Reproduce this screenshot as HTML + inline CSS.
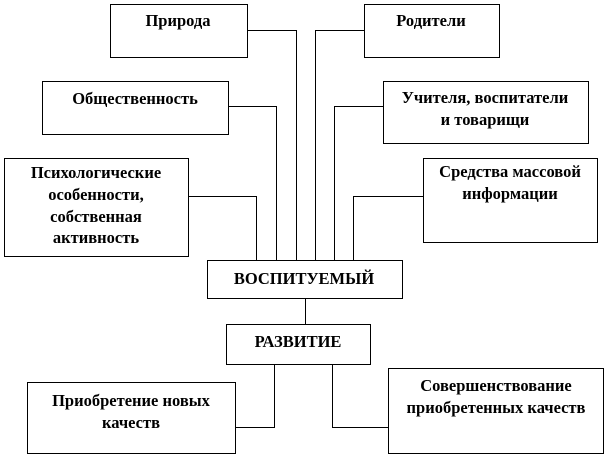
<!DOCTYPE html>
<html><head><meta charset="utf-8"><style>
html,body{margin:0;padding:0;background:#fff;}
svg{display:block;}
text{font-family:"Liberation Serif",serif;font-size:16.5px;font-weight:bold;fill:#000;text-anchor:middle;}
</style></head><body>
<svg width="611" height="456" viewBox="0 0 611 456" xmlns="http://www.w3.org/2000/svg">
<g fill="none" stroke="#000" stroke-width="1">
<rect x="110.5" y="4.5" width="137" height="53"/>
<rect x="364.5" y="4.5" width="135" height="53"/>
<rect x="42.5" y="81.5" width="186" height="53"/>
<rect x="383.5" y="81.5" width="205" height="62"/>
<rect x="4.5" y="158.5" width="184" height="98"/>
<rect x="423.5" y="158.5" width="174" height="84"/>
<rect x="207.5" y="260.5" width="195" height="38"/>
<rect x="226.5" y="324.5" width="144" height="40"/>
<rect x="27.5" y="382.5" width="208" height="71"/>
<rect x="388.5" y="368.5" width="215" height="85"/>
<polyline points="247,30.5 296.5,30.5 296.5,260"/>
<polyline points="364,30.5 315.5,30.5 315.5,260"/>
<polyline points="228,106.5 276.5,106.5 276.5,260"/>
<polyline points="383,106.5 334.5,106.5 334.5,260"/>
<polyline points="188,196.5 256.5,196.5 256.5,260"/>
<polyline points="423,196.5 353.5,196.5 353.5,260"/>
<line x1="305.5" y1="298" x2="305.5" y2="324"/>
<polyline points="274.5,365 274.5,427.5 235,427.5"/>
<polyline points="332.5,365 332.5,427.5 388,427.5"/>
</g>
<text x="178" y="26">Природа</text>
<text x="431" y="26">Родители</text>
<text x="135" y="104">Общественность</text>
<text x="485" y="103">Учителя, воспитатели</text>
<text x="485" y="125">и товарищи</text>
<text x="96" y="178">Психологические</text>
<text x="96" y="200">особенности,</text>
<text x="96" y="222">собственная</text>
<text x="96" y="243">активность</text>
<text x="510" y="177">Средства массовой</text>
<text x="510" y="199">информации</text>
<text x="304" y="284">ВОСПИТУЕМЫЙ</text>
<text x="298" y="347">РАЗВИТИЕ</text>
<text x="131" y="406">Приобретение новых</text>
<text x="131" y="428">качеств</text>
<text x="496" y="391">Совершенствование</text>
<text x="496" y="413">приобретенных качеств</text>
</svg>
</body></html>
